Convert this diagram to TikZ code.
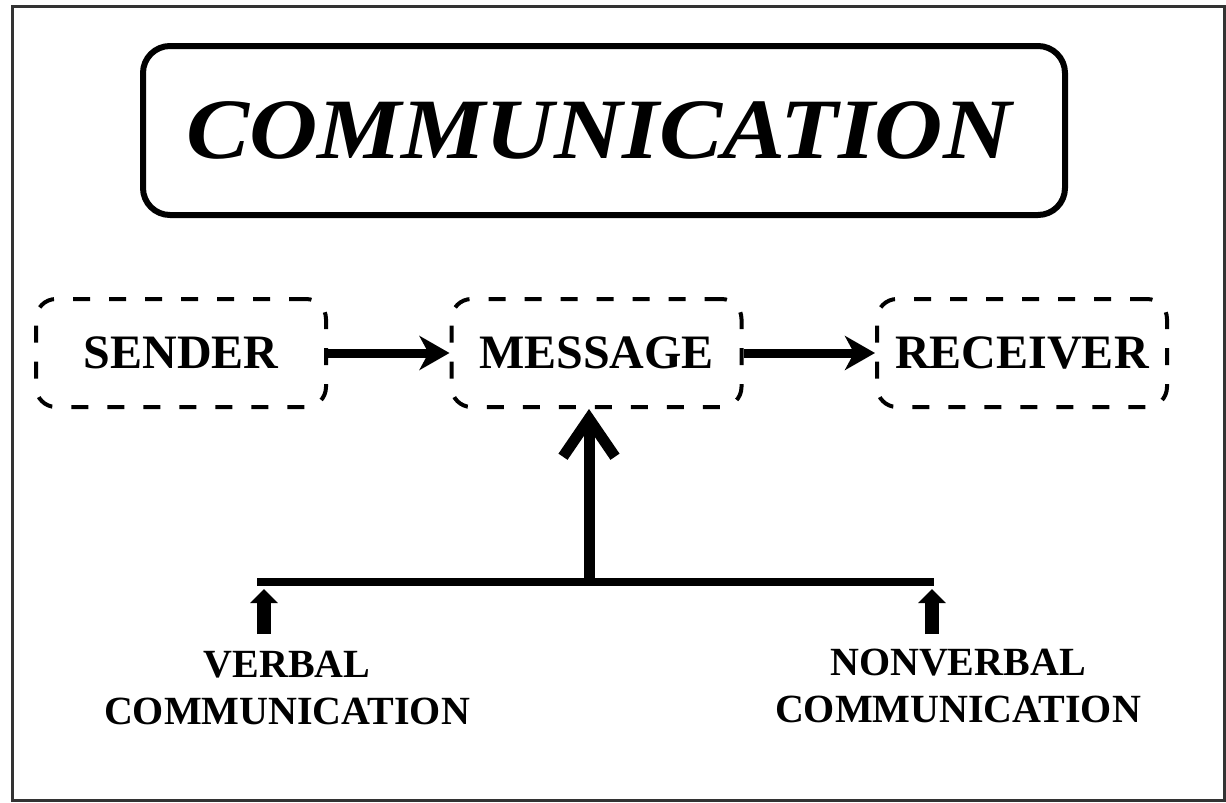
\documentclass[tikz,border=0pt]{standalone}
\usepackage{fontspec}
\setmainfont{Liberation Serif}
\usetikzlibrary{arrows.meta}

\begin{document}
\begin{tikzpicture}[x=1pt,y=-1pt,
  frame/.style={draw=black!80,line width=3pt},
  titlebox/.style={draw,line width=6pt,rounded corners=27pt,
    minimum width=922pt,minimum height=169pt,inner sep=0pt,
    font=\fontsize{86}{96}\selectfont\bfseries\itshape},
  stagebox/.style={draw,line width=4pt,dash pattern=on 17pt off 19pt,
    rounded corners=20pt,minimum width=290pt,minimum height=108pt,
    inner sep=0pt,font=\fontsize{48}{56}\selectfont\bfseries},
  flow/.style={line width=9pt,-{Stealth[length=30pt,width=34pt,inset=9pt]}},
  feed/.style={line width=11pt,-{Straight Barb[length=38pt,width=52pt]}},
  bar/.style={line width=8pt},
  input/.style={line width=14pt,-{Triangle[length=14pt,width=27pt]}},
  caption/.style={align=center,inner sep=0pt,
    font=\fontsize{40}{47}\selectfont\bfseries}]

\useasboundingbox (0,0) rectangle (1226,803);
\path[fill=white] (0,0) rectangle (1226,803);
\draw[frame] (12,6) rectangle (1224,800);

% heading, set a little wide
\node[titlebox] (title) at (604,130.5)
  {\hspace*{-10pt}\raisebox{-5pt}{\scalebox{1.1}[1]{COMMUNICATION}}};

% the three stages
\node[stagebox] (sender)   at (181,353)  {SENDER};
\node[stagebox] (message)  at (596.5,353) {MESSAGE};
\node[stagebox] (receiver) at (1022,353) {RECEIVER};

\draw[flow] (sender.east) -- (message.west);
\draw[flow] (message.east) -- (receiver.west);

% the two channels feeding the message
\coordinate (barL) at (257,582);
\coordinate (barR) at (934,582);
\coordinate (hub)  at (589,582);
\draw[bar] (barL) -- (barR);
\draw[feed] (hub) -- (hub |- message.south);

\coordinate (vin)  at (264,634);
\coordinate (vtip) at (264,589);
\coordinate (nin)  at (932,634);
\coordinate (ntip) at (932,589);
\draw[input] (vin) -- (vtip);
\draw[input] (nin) -- (ntip);

\node[caption] (verbal)    at (287,688) {VERBAL\\COMMUNICATION};
\node[caption] (nonverbal) at (958,686) {NONVERBAL\\COMMUNICATION};

\end{tikzpicture}
\end{document}
